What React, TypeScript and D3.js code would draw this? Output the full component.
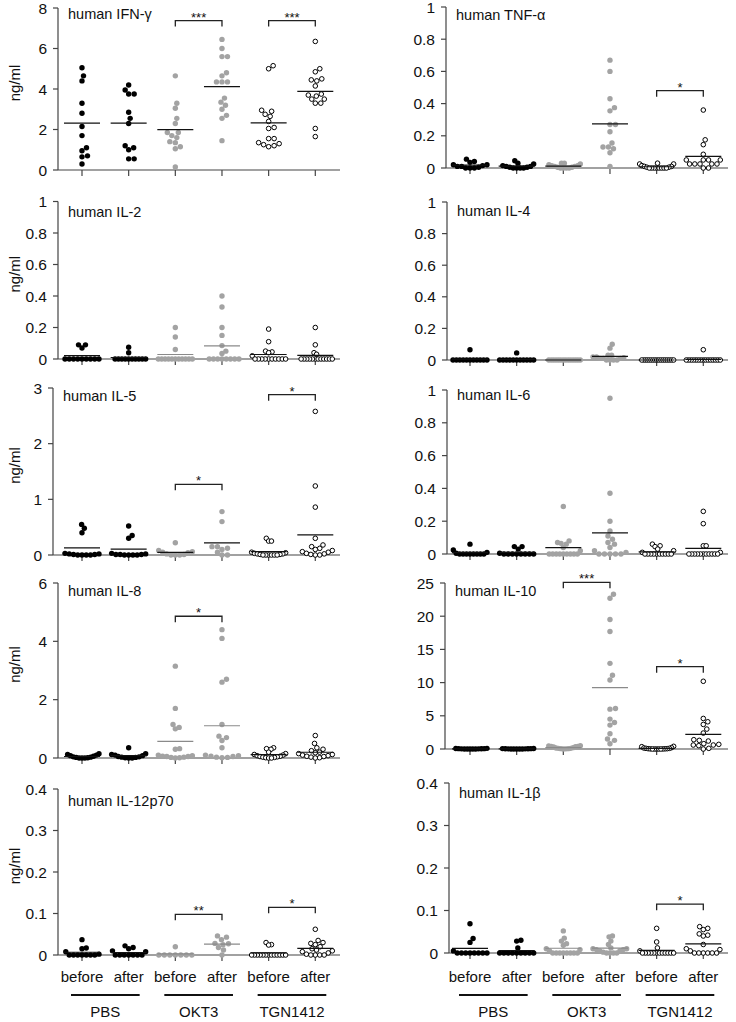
import React from 'react';
import * as d3 from 'd3';

// ---------- categories ----------
const GROUPS = ['PBS before', 'PBS after', 'OKT3 before', 'OKT3 after', 'TGN1412 before', 'TGN1412 after'];
const TIME_LABELS = ['before', 'after', 'before', 'after', 'before', 'after'];
const TREATMENTS = ['PBS', 'OKT3', 'TGN1412'];

// ---------- data (ng/ml), one array per group: PBS b/a, OKT3 b/a, TGN1412 b/a ----------
const IFN_G: number[][] = [
  [5.05, 4.65, 4.4, 3.3, 2.8, 2.15, 1.7, 1.1, 0.95, 0.7, 0.65, 0.3],
  [4.2, 3.95, 3.75, 3.75, 2.85, 2.55, 2.3, 1.2, 1.1, 1.0, 0.55, 0.55],
  [4.65, 3.3, 3.05, 2.55, 2.3, 1.85, 1.85, 1.7, 1.6, 1.4, 1.35, 1.15, 1.05, 0.15],
  [6.45, 6.0, 5.6, 5.6, 4.8, 4.65, 4.35, 4.35, 4.35, 3.55, 3.35, 3.2, 3.0, 2.7, 2.55, 1.45],
  [5.15, 5.0, 2.95, 2.9, 2.75, 2.65, 2.4, 2.1, 2.05, 1.55, 1.55, 1.35, 1.3, 1.25, 1.2, 1.15],
  [6.35, 5.0, 4.85, 4.5, 4.45, 4.4, 4.15, 3.75, 3.7, 3.65, 3.5, 3.5, 3.3, 3.3, 2.05, 1.65],
];
const TNF_A: number[][] = [
  [0.055, 0.04, 0.035, 0.02, 0.02, 0.015, 0.01, 0.01, 0.005, 0, 0, 0],
  [0.045, 0.03, 0.025, 0.015, 0.01, 0.01, 0.005, 0.005, 0, 0, 0, 0],
  [0.03, 0.03, 0.025, 0.02, 0.015, 0.015, 0.01, 0.01, 0.005, 0.005, 0, 0, 0, 0],
  [0.67, 0.6, 0.43, 0.375, 0.355, 0.27, 0.27, 0.225, 0.155, 0.13, 0.13, 0.12, 0.095, 0.01],
  [0.03, 0.025, 0.025, 0.015, 0.01, 0.01, 0.005, 0.005, 0, 0, 0, 0, 0, 0, 0, 0],
  [0.36, 0.175, 0.145, 0.085, 0.05, 0.05, 0.05, 0.05, 0.025, 0.025, 0.025, 0.025, 0.025, 0, 0],
];
const IL_2: number[][] = [
  [0.09, 0.09, 0.07, 0, 0, 0, 0, 0, 0, 0, 0, 0],
  [0.075, 0.04, 0, 0, 0, 0, 0, 0, 0, 0, 0, 0],
  [0.2, 0.14, 0.06, 0, 0, 0, 0, 0, 0, 0, 0, 0, 0, 0],
  [0.4, 0.33, 0.2, 0.15, 0.085, 0.05, 0.035, 0, 0, 0, 0, 0, 0, 0, 0],
  [0.19, 0.11, 0.05, 0.045, 0.04, 0.02, 0, 0, 0, 0, 0, 0, 0, 0, 0, 0],
  [0.2, 0.09, 0.04, 0.03, 0, 0, 0, 0, 0, 0, 0, 0, 0, 0, 0, 0],
];
const IL_4: number[][] = [
  [0.065, 0, 0, 0, 0, 0, 0, 0, 0, 0, 0, 0],
  [0.045, 0, 0, 0, 0, 0, 0, 0, 0, 0, 0, 0],
  [0, 0, 0, 0, 0, 0, 0, 0, 0, 0, 0, 0, 0, 0],
  [0.1, 0.075, 0.03, 0.03, 0.02, 0.02, 0.015, 0.01, 0.01, 0.01, 0, 0, 0, 0],
  [0, 0, 0, 0, 0, 0, 0, 0, 0, 0, 0, 0, 0, 0, 0, 0],
  [0.065, 0, 0, 0, 0, 0, 0, 0, 0, 0, 0, 0, 0, 0, 0, 0],
];
const IL_5: number[][] = [
  [0.55, 0.48, 0.4, 0.03, 0.02, 0.02, 0.01, 0.01, 0, 0, 0, 0],
  [0.52, 0.35, 0.3, 0.03, 0.02, 0.01, 0.01, 0.01, 0, 0, 0, 0],
  [0.22, 0.08, 0.06, 0.05, 0.04, 0.02, 0.01, 0, 0, 0],
  [0.78, 0.6, 0.15, 0.15, 0.12, 0.1, 0.05, 0, 0],
  [0.3, 0.25, 0.25, 0.05, 0.04, 0.03, 0.02, 0.02, 0.01, 0.01, 0, 0, 0, 0, 0, 0],
  [2.58, 1.24, 0.86, 0.3, 0.18, 0.15, 0.12, 0.1, 0.08, 0.06, 0.05, 0.03, 0.02, 0.01, 0, 0],
];
const IL_6: number[][] = [
  [0.06, 0.025, 0.01, 0.005, 0, 0, 0, 0, 0, 0, 0, 0],
  [0.045, 0.045, 0.03, 0.005, 0, 0, 0, 0, 0, 0, 0, 0],
  [0.29, 0.08, 0.07, 0.065, 0.06, 0.04, 0.02, 0, 0, 0, 0, 0, 0, 0, 0, 0],
  [0.95, 0.37, 0.2, 0.14, 0.11, 0.09, 0.07, 0.06, 0.04, 0.02, 0.01, 0, 0, 0, 0, 0],
  [0.06, 0.05, 0.045, 0.03, 0.02, 0.01, 0, 0, 0, 0, 0, 0, 0, 0, 0, 0],
  [0.26, 0.185, 0.05, 0.05, 0.01, 0, 0, 0, 0, 0, 0, 0, 0, 0, 0, 0],
];
const IL_8: number[][] = [
  [0.15, 0.12, 0.1, 0.08, 0.06, 0.04, 0.03, 0.02, 0.01, 0, 0, 0],
  [0.35, 0.15, 0.12, 0.1, 0.08, 0.05, 0.04, 0.03, 0.02, 0.01, 0, 0],
  [3.15, 1.7, 1.15, 1.05, 1.0, 0.32, 0.3, 0.1, 0.08, 0.06, 0.05, 0.05, 0.03, 0.02, 0.01, 0],
  [4.4, 4.1, 2.7, 2.6, 1.15, 0.75, 0.7, 0.6, 0.35, 0.1, 0.08, 0.06, 0.05, 0.03, 0.02, 0.01],
  [0.35, 0.32, 0.3, 0.2, 0.15, 0.12, 0.1, 0.08, 0.06, 0.05, 0.04, 0.03, 0.02, 0.01, 0, 0],
  [0.77, 0.5, 0.35, 0.3, 0.25, 0.2, 0.18, 0.15, 0.12, 0.1, 0.08, 0.06, 0.05, 0.03, 0.01, 0],
];
const IL_10: number[][] = [
  [0.1, 0.08, 0.05, 0.05, 0.03, 0.02, 0.02, 0.01, 0, 0, 0, 0],
  [0.08, 0.06, 0.05, 0.04, 0.03, 0.02, 0.02, 0.01, 0, 0, 0, 0],
  [0.5, 0.45, 0.4, 0.4, 0.35, 0.3, 0.2, 0.15, 0.1, 0.1, 0.05, 0.05, 0.02, 0],
  [23.3, 22.7, 19.5, 17.7, 12.9, 11.1, 10.4, 6.1, 6.0, 4.5, 4.0, 3.6, 2.3, 1.5, 1.3, 0.8],
  [0.4, 0.35, 0.2, 0.15, 0.1, 0.1, 0.05, 0.05, 0.03, 0.02, 0.01, 0, 0, 0, 0, 0],
  [10.2, 4.6, 4.1, 3.7, 3.0, 2.4, 1.4, 1.3, 1.2, 0.8, 0.7, 0.6, 0.6, 0.5, 0.1, 0],
];
const IL_12P70: number[][] = [
  [0.037, 0.017, 0.015, 0.008, 0.002, 0, 0, 0, 0, 0, 0, 0],
  [0.022, 0.018, 0.015, 0.01, 0.008, 0, 0, 0, 0, 0, 0, 0],
  [0.02, 0, 0, 0, 0, 0, 0, 0],
  [0.046, 0.043, 0.037, 0.028, 0.027, 0.025, 0.018, 0.012, 0],
  [0.03, 0.025, 0.024, 0, 0, 0, 0, 0, 0, 0, 0, 0, 0, 0, 0, 0],
  [0.062, 0.035, 0.03, 0.028, 0.025, 0.02, 0.015, 0.012, 0.01, 0.008, 0.005, 0.002, 0, 0, 0, 0],
];
const IL_1B: number[][] = [
  [0.069, 0.034, 0.025, 0.005, 0, 0, 0, 0, 0, 0, 0, 0],
  [0.03, 0.028, 0.012, 0, 0, 0, 0, 0, 0, 0, 0, 0],
  [0.052, 0.035, 0.028, 0.022, 0.018, 0.01, 0.008, 0.005, 0, 0, 0, 0, 0, 0, 0, 0],
  [0.04, 0.038, 0.028, 0.02, 0.012, 0.01, 0.01, 0.008, 0.008, 0.005, 0.005, 0.002, 0, 0, 0, 0],
  [0.058, 0.026, 0.012, 0.005, 0, 0, 0, 0, 0, 0, 0, 0, 0, 0, 0, 0],
  [0.062, 0.058, 0.055, 0.045, 0.042, 0.04, 0.02, 0.01, 0.008, 0.005, 0, 0, 0, 0, 0, 0],
];

// ---------- tick values ----------
const TICKS_IFN = [0, 2, 4, 6, 8];
const TICKS_UNIT = [0, 0.2, 0.4, 0.6, 0.8, 1];
const TICKS_IL5 = [0, 1, 2, 3];
const TICKS_IL8 = [0, 2, 4, 6];
const TICKS_IL10 = [0, 5, 10, 15, 20, 25];
const TICKS_SMALL = [0, 0.1, 0.2, 0.3, 0.4];

// ---------- significance brackets (pair: 1 = OKT3, 2 = TGN1412; at = value) ----------
const SIG_IFN = [{ pair: 1, at: 7.38, label: '***' }, { pair: 2, at: 7.38, label: '***' }];
const SIG_TNF = [{ pair: 2, at: 0.48, label: '*' }];
const SIG_IL5 = [{ pair: 1, at: 1.27, label: '*' }, { pair: 2, at: 2.88, label: '*' }];
const SIG_IL8 = [{ pair: 1, at: 4.86, label: '*' }];
const SIG_IL10 = [{ pair: 1, at: 25.1, label: '***' }, { pair: 2, at: 12.4, label: '*' }];
const SIG_IL12 = [{ pair: 1, at: 0.098, label: '**' }, { pair: 2, at: 0.115, label: '*' }];
const SIG_IL1B = [{ pair: 2, at: 0.115, label: '*' }];

// ---------- layout ----------
type Sig = { pair: number; at: number; label: string };
type PanelCfg = {
  title: string; data: number[][]; ticks: number[]; sig: Sig[];
  col: number; axisX: number; yTop: number; yZero: number; titleDy: number; okt3Grey: boolean;
};

const PANELS: PanelCfg[] = [
  { title: 'human IFN-γ', data: IFN_G, ticks: TICKS_IFN, sig: SIG_IFN, col: 0, axisX: 58, yTop: 8, yZero: 170, titleDy: 11, okt3Grey: false },
  { title: 'human TNF-α', data: TNF_A, ticks: TICKS_UNIT, sig: SIG_TNF, col: 1, axisX: 446, yTop: 7, yZero: 168, titleDy: 13, okt3Grey: false },
  { title: 'human IL-2', data: IL_2, ticks: TICKS_UNIT, sig: [], col: 0, axisX: 58, yTop: 201.5, yZero: 359, titleDy: 15, okt3Grey: true },
  { title: 'human IL-4', data: IL_4, ticks: TICKS_UNIT, sig: [], col: 1, axisX: 447, yTop: 202, yZero: 360, titleDy: 14, okt3Grey: false },
  { title: 'human IL-5', data: IL_5, ticks: TICKS_IL5, sig: SIG_IL5, col: 0, axisX: 53, yTop: 388, yZero: 555, titleDy: 13, okt3Grey: false },
  { title: 'human IL-6', data: IL_6, ticks: TICKS_UNIT, sig: [], col: 1, axisX: 447, yTop: 390, yZero: 554, titleDy: 10, okt3Grey: false },
  { title: 'human IL-8', data: IL_8, ticks: TICKS_IL8, sig: SIG_IL8, col: 0, axisX: 58, yTop: 583, yZero: 758, titleDy: 13, okt3Grey: true },
  { title: 'human IL-10', data: IL_10, ticks: TICKS_IL10, sig: SIG_IL10, col: 1, axisX: 445, yTop: 583, yZero: 749, titleDy: 13, okt3Grey: true },
  { title: 'human IL-12p70', data: IL_12P70, ticks: TICKS_SMALL, sig: SIG_IL12, col: 0, axisX: 58, yTop: 789, yZero: 955, titleDy: 17, okt3Grey: true },
  { title: 'human IL-1β', data: IL_1B, ticks: TICKS_SMALL, sig: SIG_IL1B, col: 1, axisX: 449, yTop: 783, yZero: 953, titleDy: 15, okt3Grey: true },
];

const COL_RANGE = [[82, 315.3], [470, 703.3]];
const COL_AXIS_END = [340, 728];
const FONT = '"Liberation Sans", Arial, Helvetica, sans-serif';
const AXIS_COLOR = '#444';
const GREY = '#a3a3a3';
const GROUP_KIND = ['black', 'black', 'grey', 'grey', 'open', 'open'];

function beeswarm(ys: number[], minDist: number, maxHalf: number): number[] {
  const order = ys.map((_, i) => i).sort((a, b) => ys[b] - ys[a]);
  const xs = new Array(ys.length).fill(0);
  const placed: { x: number; y: number }[] = [];
  for (const i of order) {
    const y = ys[i];
    let chosen = 0;
    for (let k = 0; k < 400; k++) {
      const step = Math.ceil(k / 2) * 0.5;
      const off = k === 0 ? 0 : (k % 2 === 1 ? step : -step);
      let ok = true;
      for (const p of placed) {
        const dx = p.x - off, dy = p.y - y;
        if (dx * dx + dy * dy < minDist * minDist) { ok = false; break; }
      }
      if (ok) { chosen = off; break; }
    }
    xs[i] = chosen;
    placed.push({ x: chosen, y });
  }
  const m = d3.max(xs.map(Math.abs)) || 0;
  if (m > maxHalf) return xs.map((x) => (x * maxHalf) / m);
  return xs;
}

function Panel({ p }: { p: PanelCfg }) {
  const max = p.ticks[p.ticks.length - 1];
  const x = d3.scalePoint<string>().domain(GROUPS).range(COL_RANGE[p.col] as [number, number]);
  const y = d3.scaleLinear().domain([0, max]).range([p.yZero, p.yTop]);
  const axisEnd = COL_AXIS_END[p.col];
  return (
    <g>
      {/* axes */}
      <line x1={p.axisX} x2={p.axisX} y1={y(max)} y2={y(0)} stroke={AXIS_COLOR} strokeWidth={1.2} />
      <line x1={p.axisX} x2={axisEnd} y1={y(0)} y2={y(0)} stroke={AXIS_COLOR} strokeWidth={1.2} />
      {p.ticks.map((t) => (
        <g key={t}>
          <line x1={p.axisX - 5} x2={p.axisX} y1={y(t)} y2={y(t)} stroke={AXIS_COLOR} strokeWidth={1.2} />
          <text x={p.axisX - 11} y={y(t)} dy="0.36em" textAnchor="end" fontSize={15.5} fill="#111">{String(t)}</text>
        </g>
      ))}
      {GROUPS.map((g) => (
        <line key={g} x1={x(g)} x2={x(g)} y1={y(0)} y2={y(0) + 6} stroke={AXIS_COLOR} strokeWidth={1.2} />
      ))}
      {/* title */}
      <text x={p.axisX + 10} y={p.yTop + p.titleDy} fontSize={14.5} fill="#111">{p.title}</text>
      {p.col === 0 && (
        <text transform={`translate(20,${(p.yTop + p.yZero) / 2 - 6}) rotate(-90)`} textAnchor="middle" fontSize={15} fill="#111">ng/ml</text>
      )}
      {/* dots */}
      {GROUPS.map((g, gi) => {
        const vals = p.data[gi];
        const ys = vals.map((v) => y(v));
        const offs = beeswarm(ys, 5.2, 17);
        const kind = GROUP_KIND[gi];
        const cx = x(g) as number;
        return (
          <g key={g}>
            {vals.map((v, i) =>
              kind === 'open' ? (
                <circle key={i} cx={cx + offs[i]} cy={ys[i]} r={2.3} fill="#fff" stroke="#000" strokeWidth={1} />
              ) : (
                <circle key={i} cx={cx + offs[i]} cy={ys[i]} r={2.7} fill={kind === 'black' ? '#000' : GREY} />
              )
            )}
          </g>
        );
      })}
      {/* mean lines */}
      {GROUPS.map((g, gi) => {
        const m = d3.mean(p.data[gi]) as number;
        const cx = x(g) as number;
        const grey = p.okt3Grey && GROUP_KIND[gi] === 'grey';
        return (
          <line key={g} x1={cx - 18} x2={cx + 18} y1={y(m)} y2={y(m)} stroke={grey ? '#8a8a8a' : '#111'} strokeWidth={1.2} />
        );
      })}
      {/* significance brackets */}
      {p.sig.map((s, si) => {
        const x1 = x(GROUPS[s.pair * 2]) as number;
        const x2 = x(GROUPS[s.pair * 2 + 1]) as number;
        const by = y(s.at);
        return (
          <g key={si}>
            <path d={`M${x1},${by + 6}V${by}H${x2}V${by + 6}`} fill="none" stroke="#222" strokeWidth={1.3} />
            <text x={(x1 + x2) / 2} y={by + 1} textAnchor="middle" fontSize={13} fill="#111">{s.label}</text>
          </g>
        );
      })}
    </g>
  );
}

function BottomLabels({ col }: { col: number }) {
  const x = d3.scalePoint<string>().domain(GROUPS).range(COL_RANGE[col] as [number, number]);
  return (
    <g>
      {GROUPS.map((g, i) => (
        <text key={g} x={x(g)} y={982} textAnchor="middle" fontSize={15} fill="#111">{TIME_LABELS[i]}</text>
      ))}
      {TREATMENTS.map((t, i) => {
        const a = x(GROUPS[i * 2]) as number;
        const b = x(GROUPS[i * 2 + 1]) as number;
        return (
          <g key={t}>
            <line x1={a - 11} x2={b + 11} y1={995} y2={995} stroke="#111" strokeWidth={2} />
            <text x={(a + b) / 2} y={1017} textAnchor="middle" fontSize={15} fill="#111">{t}</text>
          </g>
        );
      })}
    </g>
  );
}

export default function App() {
  return (
    <>
      <style>{`html,body{margin:0;padding:0;background:#fff}`}</style>
      <svg width={736} height={1022} style={{ display: 'block', fontFamily: FONT }}>
        <rect width={736} height={1022} fill="#fff" />
        {PANELS.map((p) => (
          <Panel key={p.title} p={p} />
        ))}
        <BottomLabels col={0} />
        <BottomLabels col={1} />
      </svg>
    </>
  );
}
